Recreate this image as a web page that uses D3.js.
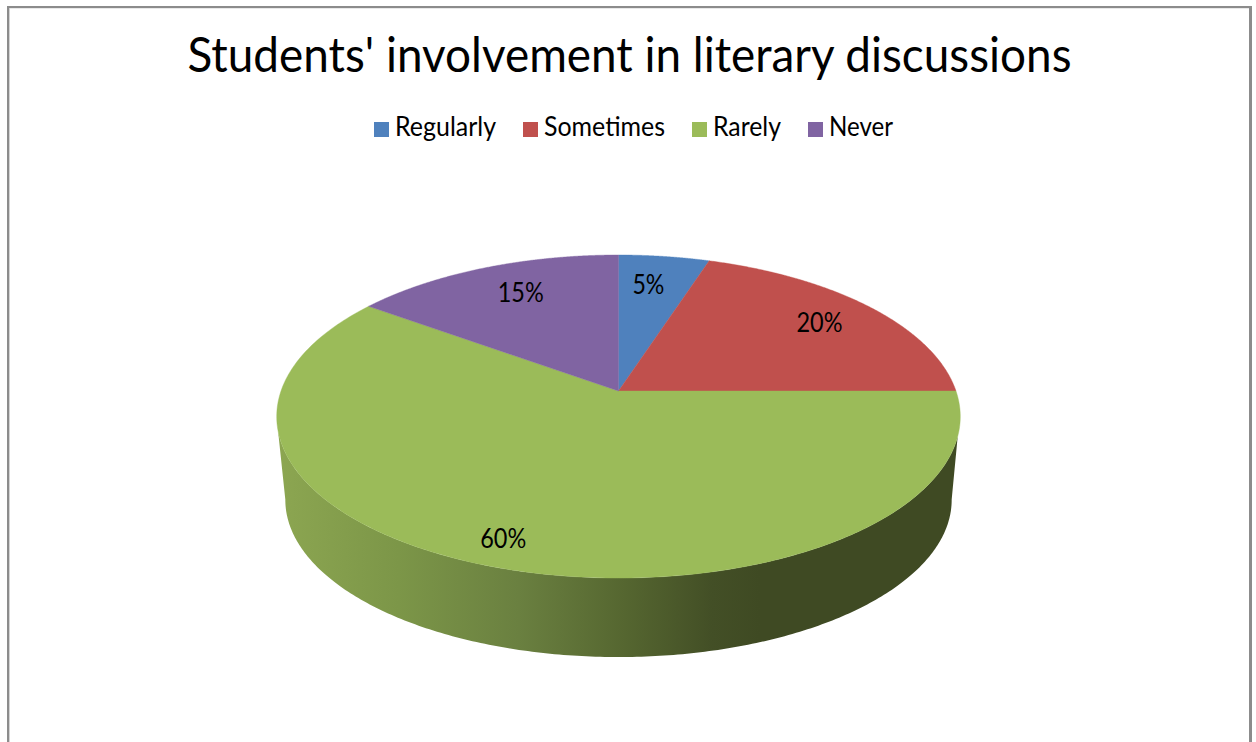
<!DOCTYPE html>
<html><head><meta charset="utf-8">
<script src="https://cdnjs.cloudflare.com/ajax/libs/d3/7.8.5/d3.min.js"></script>
<style>html,body{margin:0;padding:0;background:#fff;overflow:hidden}svg{display:block}text{font-family:Lato,"Open Sans",sans-serif;fill:#000}</style>
</head><body><svg id="c" width="1256" height="742"></svg>
<script>
const titleText = "Students' involvement in literary discussions";
const categories = ["Regularly", "Sometimes", "Rarely", "Never"];
const values = [5, 20, 60, 15];
const colors = ["#4F81BD", "#C0504D", "#9BBB59", "#8064A2"];

const svg = d3.select("#c");
// frame (open at the bottom)
svg.append("path").attr("d","M9.5 742V8M8 8H1249").attr("fill","none").attr("stroke","#d4d4d4").attr("stroke-width",1);
svg.append("path").attr("d","M8 742V7H1250").attr("fill","none").attr("stroke","#8c8c8c").attr("stroke-width",2);
svg.append("path").attr("d","M1250.5 6V742").attr("fill","none").attr("stroke","#8c8c8c").attr("stroke-width",3);

svg.append("text").text(titleText).attr("x",629.5).attr("y",72).attr("text-anchor","middle")
  .attr("font-size",48).attr("textLength",884).attr("lengthAdjust","spacingAndGlyphs");

// legend
const legendSwatchX = [374,523,692,808], legendTextW = [101,121,68,64];
const lg = svg.append("g").selectAll("g").data(categories).join("g");
lg.append("rect").attr("x",(d,i)=>legendSwatchX[i]).attr("y",122).attr("width",15).attr("height",15).attr("fill",(d,i)=>colors[i]);
lg.append("text").text(d=>d).attr("x",(d,i)=>legendSwatchX[i]+21).attr("y",136).attr("font-size",26)
  .attr("textLength",(d,i)=>legendTextW[i]).attr("lengthAdjust","spacingAndGlyphs");

// perspective projection of the pie plane
const K = -0.158;
function project(angle, r, plane){
  const u = r*Math.sin(angle), v = -r*Math.cos(angle), w = 1+K*v;
  return [plane.cx + plane.rx*u/w, plane.cy + plane.ry*v/w];
}
const topPlane = {cx:618.5, cy:391, rx:337.5, ry:157.5};
const lowPlane = {cx:618.5, cy:475, rx:329, ry:153.3};
const rad = d=>d*Math.PI/180;
const line = d3.line();
const rim = (a0,a1,plane)=>d3.range(0,241).map(i=>project(a0+(a1-a0)*i/240,1,plane));

// side wall
const grad = svg.append("defs").append("linearGradient").attr("id","wall")
  .attr("gradientUnits","userSpaceOnUse").attr("x1",278).attr("x2",760).attr("y1",0).attr("y2",0);
[[0,"#8ca651"],[0.25,"#7c9648"],[0.5,"#6a8040"],[0.72,"#556630"],[0.9,"#434f26"],[1,"#3f4a23"]]
  .forEach(s=>grad.append("stop").attr("offset",s[0]).attr("stop-color",s[1]));
const wallPts = rim(rad(106),rad(256),topPlane).concat(rim(rad(261),rad(99),lowPlane));
svg.append("path").attr("d",line(wallPts)+"Z").attr("fill","url(#wall)");

// top face
const arcs = d3.pie().value(d=>d).sort(null)(values);
svg.append("g").selectAll("path").data(arcs).join("path")
  .attr("d",d=>line([[topPlane.cx,topPlane.cy]].concat(rim(d.startAngle,d.endAngle,topPlane)))+"Z")
  .attr("fill",(d,i)=>colors[i]).attr("stroke",(d,i)=>colors[i]).attr("stroke-width",0.4);

// data labels
const labelR = [0.76,0.79,0.87,0.76], labelNudge = [-1.5,0,2,2];
svg.append("g").selectAll("text").data(arcs).join("text")
  .text(d=>d.value+"%")
  .attr("transform",(d,i)=>{
    const p = project((d.startAngle+d.endAngle)/2+rad(labelNudge[i]),labelR[i],topPlane);
    return `translate(${p[0]},${p[1]+9})`;
  })
  .attr("text-anchor","middle").attr("font-size",26)
  .attr("textLength",d=>d.value>=10?46:32).attr("lengthAdjust","spacingAndGlyphs");
</script></body></html>
